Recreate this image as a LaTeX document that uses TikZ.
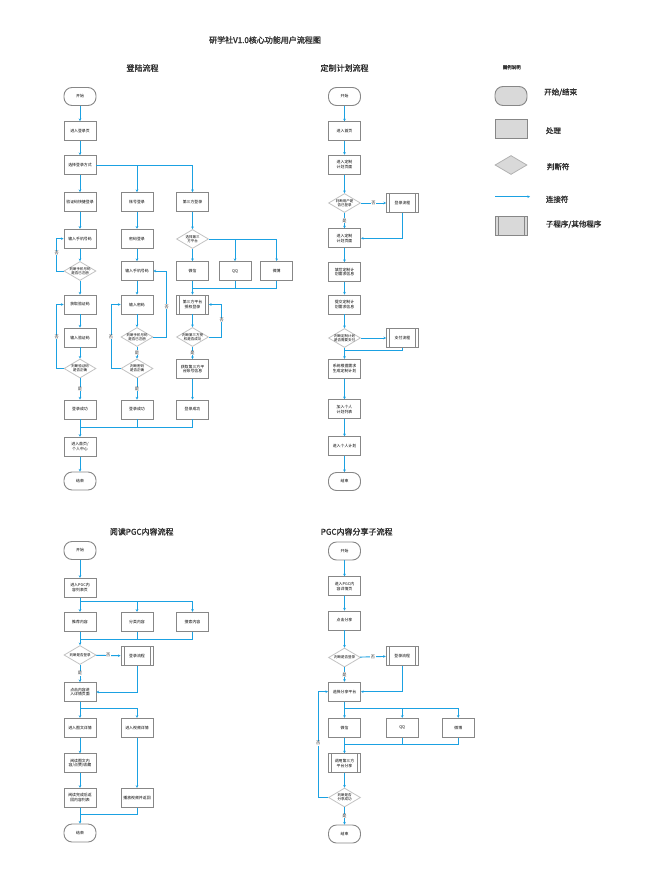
\documentclass[tikz,border=0pt]{standalone}
\usepackage{fontspec}
\setmainfont{Noto Sans CJK SC}[AutoFakeBold=2]
\XeTeXlinebreaklocale "zh"
\XeTeXlinebreakskip = 0pt
\usetikzlibrary{arrows.meta,shapes.geometric}
\definecolor{lc}{RGB}{27,161,226}
\definecolor{bc}{RGB}{135,135,135}
\definecolor{dc}{RGB}{195,195,195}
\definecolor{lg}{RGB}{217,217,217}
\definecolor{tc}{RGB}{51,51,51}
\tikzset{
 base/.style={minimum width=32pt, inner sep=0pt, font=\fontsize{3.9}{4.7}\selectfont, text=black, align=center, text width=28pt},
 term/.style={base, draw=bc, line width=0.9pt, rounded corners=8pt, minimum height=18pt, fill=white, rectangle},
 proc/.style={base, draw=bc, line width=0.9pt, minimum height=19pt, fill=white, rectangle},
 sub/.style={proc, path picture={\draw[bc,line width=0.7pt] ([xshift=3pt]path picture bounding box.north west) -- ([xshift=3pt]path picture bounding box.south west) ([xshift=-3pt]path picture bounding box.north east) -- ([xshift=-3pt]path picture bounding box.south east);}},
 dec/.style={diamond, draw=dc, line width=0.8pt, fill=white, minimum width=32pt, minimum height=19pt, inner sep=0pt},
 dtxt/.style={font=\fontsize{3.5}{4.3}\selectfont, align=center, text width=24pt, inner sep=0pt},
 conn/.style={draw=lc, line width=0.9pt, -{Stealth[length=2.6pt,width=2.6pt]}},
 link/.style={draw=lc, line width=0.9pt},
 yn/.style={fill=white, inner sep=0.6pt, font=\fontsize{4.2}{4.2}\selectfont, text=tc},
 sec/.style={font=\fontsize{8}{8}\selectfont\bfseries, text=tc},
 leg/.style={font=\fontsize{7.5}{8}\selectfont\bfseries, text=tc, anchor=west, inner sep=0pt},
 lgterm/.style={term, fill=lg, minimum height=19pt},
 lgproc/.style={proc, fill=lg},
 lgsub/.style={sub, fill=lg},
 lgdec/.style={dec, fill=lg, draw=gray!60},
}
\begin{document}
\begin{tikzpicture}[x=1pt,y=-1pt]
\useasboundingbox (0,0) rectangle (663,880);

% titles
\node[sec] (title) at (265,40) {研学社V1.0核心功能用户流程图};
\node[sec] (t1) at (142.5,68) {登陆流程};
\node[sec] (t2) at (344.5,68) {定制计划流程};
\node[sec] (t3) at (141.7,531.7) {阅读PGC内容流程};
\node[sec] (t4) at (356.7,531.7) {PGC内容分享子流程};

% ===== legend =====
\node[font=\fontsize{4.5}{5}\selectfont\bfseries, text=tc] (lgt) at (511.7,67.3) {图例说明};
\node[lgterm] (lg1) at (511,96) {};
\node[leg] (lgl1) at (544,92.3) {开始/结束};
\node[lgproc] (lg2) at (511,128.8) {};
\node[leg] (lgl2) at (545.7,130.7) {处理};
\node[lgdec] (lg3) at (511,165) {};
\node[leg] (lgl3) at (546.7,166.7) {判断符};
\coordinate (lgA) at (495,196.7);
\coordinate (lgB) at (530,196.7);
\draw[conn] (lgA) -- (lgB);
\node[leg] (lgl4) at (545.7,199.3) {连接符};
\node[lgsub] (lg5) at (511,226.3) {};
\node[leg] (lgl5) at (545.7,224.3) {子程序/其他程序};

% ===== login flow =====
\node[term] (lStart) at (80,96.5) {开始};
\node[proc] (lB1) at (80,131) {进入登录页};
\node[proc] (lB2) at (80,165) {选择登录方式};
\node[proc] (lA1) at (80,202) {验证码快捷登录};
\node[proc] (lM1) at (137,202) {账号登录};
\node[proc] (lR1) at (192.5,202) {第三方登录};
\node[proc] (lA2) at (80,238.7) {输入手机号码};
\node[proc] (lM2) at (137,238.7) {密码登录};
\node[dec, label={[dtxt]center:选择第三方平台}] (lR2) at (192.5,239) {};
\node[dec, label={[dtxt]center:判断手机号码是否已注册}] (lA3) at (80,271) {};
\node[proc] (lM3) at (137,271) {输入手机号码};
\node[proc] (lRa) at (192.5,271) {微信};
\node[proc] (lRb) at (235,271) {QQ};
\node[proc] (lRc) at (276.7,271) {微博};
\node[proc] (lA4) at (80,304.5) {获取验证码};
\node[proc] (lM4) at (137,304.5) {输入密码};
\node[sub] (lR4) at (192.5,304.5) {第三方平台授权登录};
\node[proc] (lA5) at (80,337.5) {输入验证码};
\node[dec, label={[dtxt]center:判断手机号码是否已注册}] (lM5) at (137,337) {};
\node[dec, label={[dtxt]center:判断第三方授权是否成功}] (lR5) at (192.5,337) {};
\node[dec, label={[dtxt]center:判断验证码是否正确}] (lA6) at (80,368.5) {};
\node[dec, label={[dtxt]center:判断密码是否正确}] (lM6) at (137,368.5) {};
\node[proc] (lR6) at (192.5,369) {获取第三方平台账号信息};
\node[proc] (lA7) at (80,409.5) {登录成功};
\node[proc] (lM7) at (137,409.5) {登录成功};
\node[proc] (lR7) at (192.5,409.5) {登录成功};
\node[proc] (lB8) at (80,446.7) {进入首页/个人中心};
\node[term] (lEnd) at (80,481) {结束};

\coordinate (lx1) at (56.7,0);
\coordinate (lx2) at (111,0);
\coordinate (lx3) at (166.7,0);
\coordinate (lx4) at (221.7,0);
\coordinate (lrm) at (192.5,288.3);
\coordinate (lbm) at (80,427.7);

\draw[conn] (lStart) -- (lB1);
\draw[conn] (lB1) -- (lB2);
\draw[conn] (lB2) -- (lA1);
\draw[conn] (lB2.east) -| (lM1.north);
\draw[conn] (lB2.east) -| (lR1.north);
\draw[conn] (lA1) -- (lA2);
\draw[conn] (lA2) -- (lA3);
\draw[conn] (lA3) -- (lA4);
\draw[conn] (lA3.west) -- (lA3.west -| lx1) |- (lA2.west);
\node[yn] (n1) at (56.7,253) {否};
\draw[conn] (lA4) -- (lA5);
\draw[conn] (lA5) -- (lA6);
\draw[conn] (lA6) -- node[yn]{是} (lA7);
\draw[conn] (lA6.west) -- (lA6.west -| lx1) |- (lA4.west);
\node[yn] (n2) at (56.7,337) {否};

\draw[conn] (lM1) -- (lM2);
\draw[conn] (lM2) -- (lM3);
\draw[conn] (lM3) -- (lM4);
\draw[conn] (lM4) -- (lM5);
\draw[conn] (lM5) -- node[yn]{是} (lM6);
\draw[conn] (lM5.east) -- (lM5.east -| lx3) |- (lM3.east);
\node[yn] (n3) at (166.7,306.7) {否};
\draw[conn] (lM6) -- node[yn]{是} (lM7);
\draw[conn] (lM6.west) -- (lM6.west -| lx2) |- (lM4.west);
\node[yn] (n4) at (111,337) {否};

\draw[conn] (lR1) -- (lR2);
\draw[conn] (lR2) -- (lRa);
\draw[conn] (lR2.east) -| (lRb.north);
\draw[conn] (lR2.east) -| (lRc.north);
\draw[conn] (lRa) -- (lR4);
\draw[link] (lRb.south) |- (lrm);
\draw[link] (lRc.south) |- (lrm);
\draw[conn] (lR4) -- (lR5);
\draw[conn] (lR5) -- node[yn]{是} (lR6);
\draw[conn] (lR5.east) -- (lR5.east -| lx4) |- (lR4.east);
\node[yn] (n5) at (221.7,320) {否};
\draw[conn] (lR6) -- (lR7);

\draw[conn] (lA7) -- (lB8);
\draw[link] (lM7.south) |- (lbm);
\draw[link] (lR7.south) |- (lbm);
\draw[conn] (lB8) -- (lEnd);

% ===== plan flow =====
\node[term] (pStart) at (344.5,96.5) {开始};
\node[proc] (p1) at (344.5,131.3) {进入首页};
\node[proc] (p2) at (344.5,164.7) {进入定制计划页面};
\node[dec, label={[dtxt]center:判断用户是否已登录}] (pD1) at (344.5,203) {};
\node[sub] (pS1) at (402.5,203) {登录流程};
\node[proc] (p3) at (344.5,238.3) {进入定制计划页面};
\node[proc] (p4) at (344.5,272) {填写定制计划需求信息};
\node[proc] (p5) at (344.5,304.5) {提交定制计划需求信息};
\node[dec, label={[dtxt]center:判断定制计划是否需要支付}] (pD2) at (344.5,338) {};
\node[sub] (pS2) at (402.5,338) {支付流程};
\node[proc] (p6) at (344.5,368.8) {系统根据需求生成定制计划};
\node[proc] (p7) at (344.5,409.2) {加入个人计划列表};
\node[proc] (p8) at (344.5,446.2) {进入个人计划};
\node[term] (pEnd) at (344.5,481.5) {结束};
\coordinate (pm) at (344.5,350);

\draw[conn] (pStart) -- (p1);
\draw[conn] (p1) -- (p2);
\draw[conn] (p2) -- (pD1);
\draw[conn] (pD1) -- node[yn]{是} (p3);
\draw[conn] (pD1) -- node[yn]{否} (pS1);
\draw[conn] (pS1.south) |- (p3.east);
\draw[conn] (p3) -- (p4);
\draw[conn] (p4) -- (p5);
\draw[conn] (p5) -- (pD2);
\draw[conn] (pD2) -- (pS2);
\draw[conn] (pD2) -- (p6);
\draw[link] (pS2.south) |- (pm);
\draw[conn] (p6) -- (p7);
\draw[conn] (p7) -- (p8);
\draw[conn] (p8) -- (pEnd);

% ===== PGC read =====
\node[term] (rStart) at (80,550.5) {开始};
\node[proc] (r1) at (80,587.8) {进入PGC内容列表页};
\node[proc] (r2a) at (80,621.7) {推荐内容};
\node[proc] (r2b) at (137,621.7) {分类内容};
\node[proc] (r2c) at (192.5,621.7) {搜索内容};
\node[dec, label={[dtxt]center:判断是否登录}] (rD1) at (80,655) {};
\node[sub] (rS1) at (137,656) {登录流程};
\node[proc] (r3) at (80,692) {点击内容进入详情页面};
\node[proc] (r4a) at (80,727.8) {进入图文详情};
\node[proc] (r4b) at (137,727.8) {进入视频详情};
\node[proc] (r5a) at (80,763.3) {阅读图文内容/点赞/收藏};
\node[proc] (r6a) at (80,797.8) {阅读完成后返回内容列表};
\node[proc] (r6b) at (137,797.8) {播放视频并返回};
\node[term] (rEnd) at (80,833) {结束};
\coordinate (rs1) at (80,601.7);
\coordinate (rm1) at (80,639.3);
\coordinate (rs2) at (80,708.3);
\coordinate (rm2) at (80,814);

\draw[conn] (rStart) -- (r1);
\draw[conn] (r1) -- (r2a);
\draw[conn] (rs1) -| (r2b.north);
\draw[conn] (rs1) -| (r2c.north);
\draw[conn] (r2a) -- (rD1);
\draw[link] (r2b.south) |- (rm1);
\draw[link] (r2c.south) |- (rm1);
\draw[conn] (rD1) -- node[yn]{否} (rS1);
\draw[conn] (rD1) -- node[yn]{是} (r3);
\draw[conn] (rS1.south) |- (r3.east);
\draw[conn] (r3) -- (r4a);
\draw[conn] (rs2) -| (r4b.north);
\draw[conn] (r4a) -- (r5a);
\draw[conn] (r5a) -- (r6a);
\draw[conn] (r4b) -- (r6b);
\draw[link] (r6b.south) |- (rm2);
\draw[conn] (r6a) -- (rEnd);

% ===== PGC share =====
\node[term] (sStart) at (344.5,551) {开始};
\node[proc] (s1) at (344.5,586.3) {进入PGC内容详情页};
\node[proc] (s2) at (344.5,620.5) {点击分享};
\node[dec, label={[dtxt]center:判断是否登录}] (sD1) at (344.5,657.5) {};
\node[sub] (sS1) at (402.2,656) {登录流程};
\node[proc] (s3) at (344.5,691.7) {选择分享平台};
\node[proc] (s4a) at (344.5,727.8) {微信};
\node[proc] (s4b) at (402.2,727.8) {QQ};
\node[proc] (s4c) at (458.3,727.8) {微博};
\node[sub] (sS2) at (344.5,763.3) {调用第三方平台分享};
\node[dec, label={[dtxt]center:判断是否分享成功}] (sD2) at (344.5,797.5) {};
\node[term] (sEnd) at (344.5,834) {结束};
\coordinate (ss) at (344.5,708.3);
\coordinate (sm) at (344.5,744);
\coordinate (sx) at (318.3,0);

\draw[conn] (sStart) -- (s1);
\draw[conn] (s1) -- (s2);
\draw[conn] (s2) -- (sD1);
\draw[conn] (sD1) -- node[yn]{否} (sS1);
\draw[conn] (sD1) -- node[yn]{是} (s3);
\draw[conn] (sS1.south) |- (s3.east);
\draw[conn] (s3) -- (s4a);
\draw[conn] (ss) -| (s4b.north);
\draw[conn] (ss) -| (s4c.north);
\draw[conn] (s4a) -- (sS2);
\draw[link] (s4b.south) |- (sm);
\draw[link] (s4c.south) |- (sm);
\draw[conn] (sS2) -- (sD2);
\draw[conn] (sD2.west) -- (sD2.west -| sx) |- (s3.west);
\node[yn] (n6) at (318.3,743.3) {否};
\draw[conn] (sD2) -- node[yn]{是} (sEnd);
\end{tikzpicture}
\end{document}
